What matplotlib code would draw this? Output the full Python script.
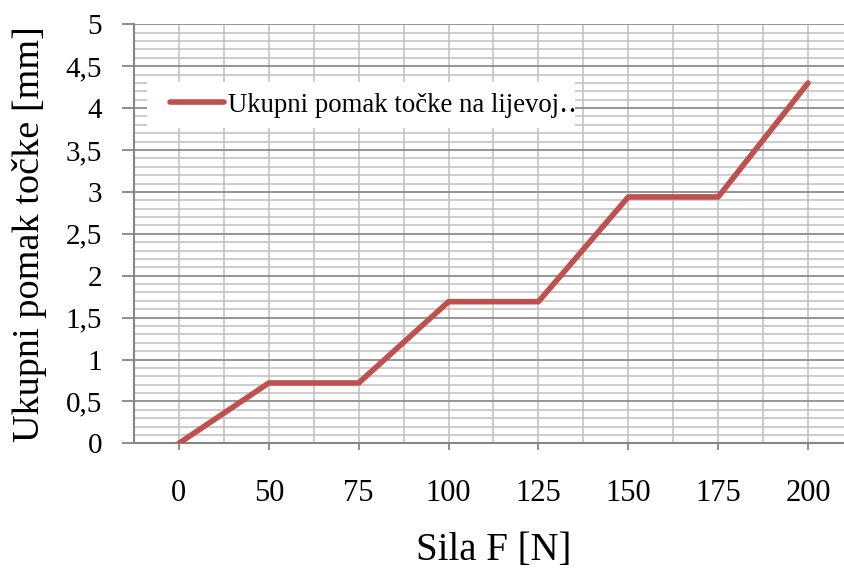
import matplotlib.pyplot as plt
import numpy as np
from matplotlib.patches import Rectangle
from matplotlib.ticker import FixedLocator, FuncFormatter, MultipleLocator

# Force categories along the x axis (equally spaced in Excel style)
SILA_LABELS = ["0", "50", "75", "100", "125", "150", "175", "200"]
# Total displacement of the point on the left side [mm]
POMAK = [0.0, 0.72, 0.72, 1.69, 1.69, 2.94, 2.94, 4.30]
SERIES_NAME = "Ukupni pomak točke na lijevoj‥"

RED = "#C0504D"
GRID_MAJOR = "#8C8C8C"
GRID_MINOR = "#BFBFBF"
AXIS_GREY = "#868686"

plt.rcParams["font.family"] = ["Liberation Serif", "DejaVu Serif"]

W, H = 844, 568
fig = plt.figure(figsize=(W / 100, H / 100), dpi=100)

# plot area in pixels: left 134, top 24, bottom 443; runs past the right edge
left, top, bottom, right = 134, 24.3, 443.3, 853
ax = fig.add_axes([left / W, 1 - bottom / H, (right - left) / W, (bottom - top) / H])

x = np.arange(len(SILA_LABELS))
ax.plot(x, POMAK, color=RED, lw=4, solid_joinstyle="round",
        solid_capstyle="round", label=SERIES_NAME, zorder=4)

ax.set_xlim(-0.5, len(SILA_LABELS) - 0.5)
ax.set_ylim(0, 5)

# gridlines: 0.5 major / 0.1 minor on y, categories and midpoints on x
ax.yaxis.set_major_locator(MultipleLocator(0.5))
ax.yaxis.set_minor_locator(MultipleLocator(0.1))
ax.xaxis.set_major_locator(FixedLocator(x))
ax.xaxis.set_minor_locator(FixedLocator(x[:-1] + 0.5))
ax.set_xticklabels(SILA_LABELS)
ax.yaxis.set_major_formatter(
    FuncFormatter(lambda v, _: f"{v:g}".replace(".", ",")))

ax.set_axisbelow(True)
ax.grid(which="major", axis="y", color=GRID_MAJOR, lw=1.3)
ax.grid(which="minor", axis="y", color=GRID_MINOR, lw=1.1)
ax.grid(which="both", axis="x", color=GRID_MINOR, lw=1.1)

for side in ("top", "right"):
    ax.spines[side].set_visible(False)
for side in ("left", "bottom"):
    ax.spines[side].set_color(AXIS_GREY)
    ax.spines[side].set_linewidth(1.5)

ax.tick_params(axis="y", which="major", length=9, width=1.3, color=AXIS_GREY,
               labelsize=21, pad=14)
ax.tick_params(axis="x", which="major", length=5, width=1.3, color=AXIS_GREY,
               labelsize=22, pad=21)
ax.tick_params(which="minor", length=0)

ax.set_xlabel("Sila F [N]", fontsize=28, labelpad=17)
ax.set_ylabel("Ukupni pomak točke [mm]", fontsize=27.5, labelpad=13)

# white legend box inside the plot area
ax.add_patch(Rectangle((0.018, 0.752), 0.595, 0.11, transform=ax.transAxes,
                       facecolor="white", edgecolor="none", zorder=3))
leg = ax.legend(loc="center left", bbox_to_anchor=(0.05, 0.807), frameon=False,
                fontsize=19.3, handlelength=2.0, handletextpad=0.15, borderpad=0,
                borderaxespad=0)
leg.set_zorder(5)

fig.savefig("out.png", dpi=100)
